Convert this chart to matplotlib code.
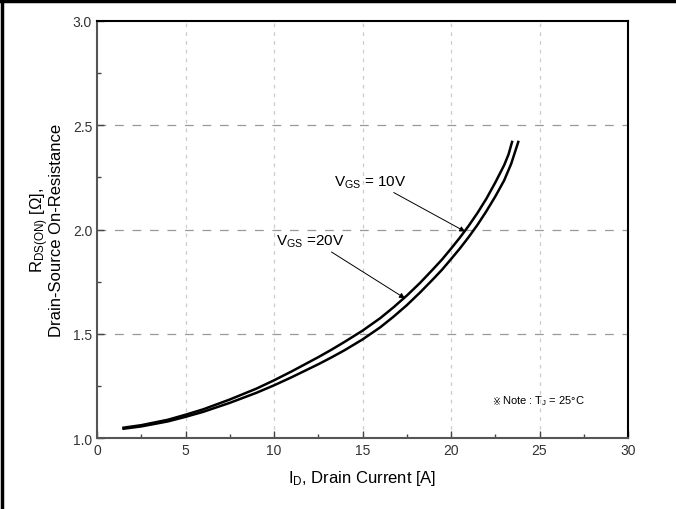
import matplotlib
matplotlib.use("Agg")
import matplotlib.pyplot as plt
from matplotlib.lines import Line2D
from matplotlib.ticker import MultipleLocator

plt.rcParams['font.family'] = ['Liberation Sans', 'DejaVu Sans']
plt.rcParams['mathtext.fontset'] = 'custom'
plt.rcParams['mathtext.rm'] = 'Liberation Sans'
plt.rcParams['mathtext.it'] = 'Liberation Sans'

# --- DATA ---
id_10v = [1.5, 2.5, 4, 5, 6, 7.5, 9, 10, 11, 12.5, 13.25, 14, 15, 16, 16.75, 17.5,
          18.25, 19, 19.5, 20, 20.5, 21, 21.5, 22, 22.5, 23, 23.25, 23.45]
r_10v = [1.050, 1.062, 1.088, 1.112, 1.138, 1.185, 1.237, 1.277, 1.320, 1.388,
         1.424, 1.462, 1.515, 1.575, 1.627, 1.683, 1.744, 1.811, 1.857, 1.908,
         1.961, 2.018, 2.080, 2.148, 2.225, 2.308, 2.360, 2.420]

id_20v = [1.5, 2.5, 4, 5, 6, 7.5, 9, 10, 11, 12.5, 13.25, 14, 15, 16, 16.75, 17.5,
          18.25, 19, 19.5, 20, 20.5, 21, 21.5, 22, 22.5, 23, 23.4, 23.8]
r_20v = [1.045, 1.056, 1.080, 1.102, 1.126, 1.169, 1.217, 1.253, 1.292, 1.354,
         1.387, 1.422, 1.473, 1.531, 1.582, 1.637, 1.698, 1.763, 1.808, 1.858,
         1.909, 1.964, 2.023, 2.088, 2.158, 2.235, 2.315, 2.420]

x_ticks = [0, 5, 10, 15, 20, 25, 30]
y_ticks = [1.0, 1.5, 2.0, 2.5, 3.0]

fig = plt.figure(figsize=(6.76, 5.10), dpi=100)
ax = fig.add_axes([0.1435, 0.139, 0.7855, 0.818])

ax.plot(id_10v, r_10v, color='black', lw=1.8)
ax.plot(id_20v, r_20v, color='black', lw=1.8)

ax.set_xlim(0, 30)
ax.set_ylim(1.0, 3.0)
ax.set_xticks(x_ticks)
ax.set_yticks(y_ticks)
ax.set_xticklabels([str(v) for v in x_ticks])
ax.set_yticklabels([f"{v:.1f}" for v in y_ticks])
ax.xaxis.set_minor_locator(MultipleLocator(2.5))
ax.yaxis.set_minor_locator(MultipleLocator(0.25))
ax.tick_params(which='both', direction='in', colors='#444', labelcolor='#333',
               labelsize=10, top=False, right=False)
ax.tick_params(which='major', length=5, width=1)
ax.tick_params(which='minor', length=3, width=1)

# grid
for y in y_ticks[1:-1]:
    ax.axhline(y, color='#999999', lw=0.9, dashes=(7, 7), zorder=0)
for x in x_ticks[1:-1]:
    ax.axvline(x, color='#cccccc', lw=0.9, dashes=(3, 4), zorder=0)

for side in ['top', 'right']:
    ax.spines[side].set_color('black')
    ax.spines[side].set_linewidth(1.5)
for side in ['left', 'bottom']:
    ax.spines[side].set_color('#555555')
    ax.spines[side].set_linewidth(1.5)

# annotations
ax.annotate("V$_{GS}$ = 10V", xy=(20.8, 1.99), xytext=(13.4, 2.23),
            fontsize=11, va='center', ha='left',
            arrowprops=dict(arrowstyle='-|>', color='black', lw=0.7,
                            shrinkA=0, shrinkB=0, mutation_scale=8,
                            relpos=(0.75, 0.0)))
ax.annotate("V$_{GS}$ =20V", xy=(17.4, 1.67), xytext=(10.1, 1.945),
            fontsize=11, va='center', ha='left',
            arrowprops=dict(arrowstyle='-|>', color='black', lw=0.7,
                            shrinkA=0, shrinkB=0, mutation_scale=8,
                            relpos=(0.75, 0.0)))
ax.text(22.3, 1.18, "※", fontsize=7, va='center', ha='left', family='DejaVu Sans')
ax.text(22.9, 1.18, "Note : T$_{J}$ = 25°C", fontsize=8, va='center', ha='left')

ax.set_xlabel("I$_{D}$, Drain Current [A]", fontsize=12, labelpad=8)
ax.set_ylabel("R$_{DS(ON)}$ [Ω],\nDrain-Source On-Resistance", fontsize=12,
              labelpad=6, linespacing=0.9)

# outer frame (left and top edges)
fig.add_artist(Line2D([0.003, 0.003], [0.0, 0.997], transform=fig.transFigure,
                      color='black', lw=2.5))
fig.add_artist(Line2D([0.0, 1.0], [0.996, 0.996], transform=fig.transFigure,
                      color='black', lw=2.5))

fig.savefig("out.png", dpi=100)
